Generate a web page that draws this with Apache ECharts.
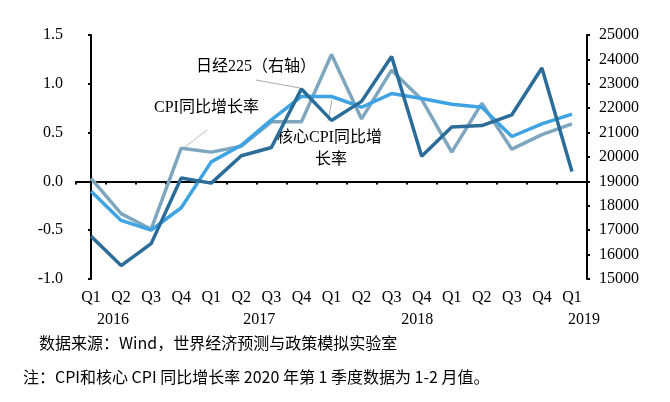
<!DOCTYPE html>
<html><head><meta charset="utf-8">
<script src="https://cdn.jsdelivr.net/npm/echarts@6/dist/echarts.min.js"></script>
<style>html,body{margin:0;padding:0;background:#fff;}#c{width:670px;height:402px;}</style>
</head><body><div id="c"></div>
<script>
var categories = ['Q1','Q2','Q3','Q4','Q1','Q2','Q3','Q4','Q1','Q2','Q3','Q4','Q1','Q2','Q3','Q4','Q1'];
var yearLabels = ['2016','2017','2018','2019'];
var yearLabelPos = [0.73, 5.6, 10.85, 16.4];
var cpi = [-0.10,-0.40,-0.50,-0.27,0.20,0.37,0.63,0.87,0.87,0.76,0.90,0.85,0.79,0.76,0.46,0.59,0.69];
var coreCpi = [0.03,-0.33,-0.49,0.34,0.30,0.36,0.61,0.61,1.30,0.64,1.14,0.84,0.30,0.80,0.33,0.48,0.59];
var nikkei = [16750,15550,16450,19140,18930,20050,20390,22790,21500,22280,24120,20030,21230,21290,21730,23650,19410];
var leftTicks = {min:-1, max:1.5, interval:0.5};
var rightTicks = {min:15000, max:25000, interval:1000};

var serif = "'Liberation Serif','DejaVu Serif',serif";
var cjk = "'Liberation Serif','Noto Sans CJK SC',sans-serif";
var fs = 16;
var chart = echarts.init(document.getElementById('c'));
chart.setOption({
  animation:false,
  grid:{left:76,right:83,top:35,bottom:123},
  xAxis:[
    {type:'category',data:categories,position:'bottom',boundaryGap:true,
     axisLine:{show:false,onZero:false},axisTick:{show:false},
     axisLabel:{margin:11,color:'#000',fontFamily:serif,fontSize:fs}},
    {type:'category',data:categories,position:'bottom',boundaryGap:true,
     axisLine:{show:true,onZero:true,lineStyle:{color:'#000',width:2}},
     axisTick:{show:true,length:3,inside:false,lineStyle:{color:'#000',width:2}},
     axisLabel:{show:false}},
    {type:'value',min:-0.5,max:16.5,position:'bottom',offset:22,
     axisLine:{show:false,onZero:false},axisTick:{show:false},splitLine:{show:false},
     axisLabel:{customValues:yearLabelPos,margin:11,color:'#000',fontFamily:serif,fontSize:fs,
       formatter:function(v){var i=yearLabelPos.indexOf(v);return i>=0?yearLabels[i]:'';}}}
  ],
  yAxis:[
    {type:'value',min:leftTicks.min,max:leftTicks.max,interval:leftTicks.interval,
     axisLine:{show:true,lineStyle:{color:'#000',width:2}},
     axisTick:{show:true,length:3,lineStyle:{color:'#000',width:2}},
     splitLine:{show:false},
     axisLabel:{color:'#000',fontFamily:serif,fontSize:fs,margin:13,
       formatter:function(v){return v.toFixed(1);}}},
    {type:'value',min:rightTicks.min,max:rightTicks.max,interval:rightTicks.interval,position:'right',
     axisLine:{show:true,lineStyle:{color:'#000',width:2}},
     axisTick:{show:true,length:3,lineStyle:{color:'#000',width:2}},
     splitLine:{show:false},
     axisLabel:{color:'#000',fontFamily:serif,fontSize:fs,margin:12,
       formatter:function(v){return String(v);}}}
  ],
  series:[
    {name:'核心CPI同比增长率',type:'line',data:coreCpi,xAxisIndex:0,yAxisIndex:0,symbol:'none',
     lineStyle:{color:'#7ea7bf',width:3.5}},
    {name:'CPI同比增长率',type:'line',data:cpi,xAxisIndex:0,yAxisIndex:0,symbol:'none',
     lineStyle:{color:'#3ea2e3',width:3.5}},
    {name:'日经225（右轴）',type:'line',data:nikkei,xAxisIndex:0,yAxisIndex:1,symbol:'none',
     lineStyle:{color:'#2b6c99',width:3.5}}
  ],
  graphic:[
    {type:'text',left:196,top:59,style:{text:'日经225（右轴）',font:"16px "+cjk,fill:'#000'}},
    {type:'line',shape:{x1:256,y1:80,x2:300,y2:88},style:{stroke:'#aaa',lineWidth:1}},
    {type:'text',left:154,top:100,style:{text:'CPI同比增长率',font:"16px "+cjk,fill:'#000'}},
    {type:'line',shape:{x1:207,y1:130,x2:185,y2:147},style:{stroke:'#bbb',lineWidth:1}},
    {type:'text',left:277,top:130,style:{text:'核心CPI同比增',font:"16px "+cjk,fill:'#000'}},
    {type:'text',left:315,top:152,style:{text:'长率',font:"16px "+cjk,fill:'#000'}},
    {type:'line',shape:{x1:332,y1:100,x2:328,y2:121},style:{stroke:'#aaa',lineWidth:1}},
    {type:'text',left:39,top:335,style:{text:'数据来源：Wind，世界经济预测与政策模拟实验室',font:"16px 'Noto Sans CJK SC'",fill:'#000'}},
    {type:'text',left:23,top:369,style:{text:'注：CPI和核心 CPI 同比增长率 2020 年第 1 季度数据为 1-2 月值。',font:"16px 'Noto Sans CJK SC'",fill:'#000'}}
  ]
});
</script></body></html>
